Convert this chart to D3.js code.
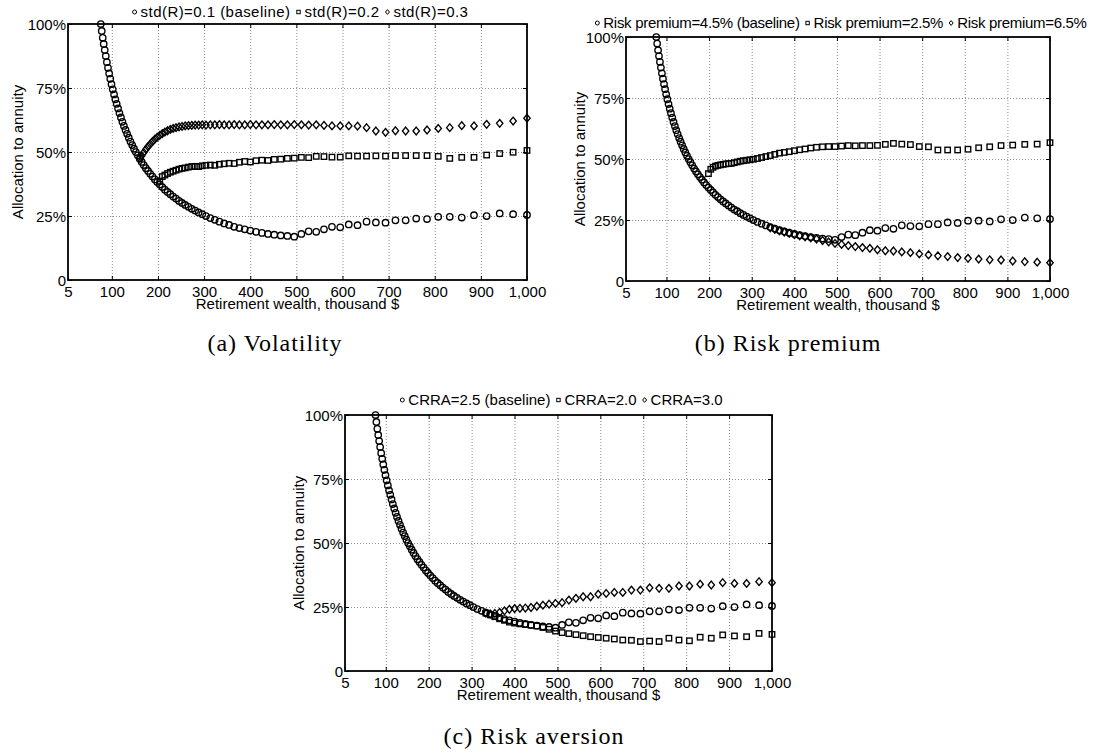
<!DOCTYPE html>
<html>
<head>
<meta charset="utf-8">
<title>Allocation to annuity</title>
<script src="https://cdnjs.cloudflare.com/ajax/libs/d3/7.8.5/d3.min.js"></script>
<style>
  body { margin: 0; background: #fff; }
  svg { display: block; font-family: "Liberation Sans", Arial, Helvetica, sans-serif; }
  .grid line { stroke: #8c8c8c; stroke-width: 1; stroke-dasharray: 1,2; }
  .frame { fill: none; stroke: #000; stroke-width: 1.8; }
  .lbl { font-size: 15px; fill: #000; }
  .caption { font-family: "Liberation Serif", "Times New Roman", serif; font-size: 24px; letter-spacing: 1px; fill: #000; }
  .mk { fill: none; stroke: #000; stroke-width: 1.35; }
  .lmk { fill: none; stroke: #000; stroke-width: 1; }
</style>
</head>
<body>
<div id="chart"></div>
<script>
// retirement wealth grid, thousand $
const wealth = [76.1, 78.1, 80.3, 82.4, 84.6, 86.9, 89.3, 91.7, 94.2, 96.7,
  99.3, 102.0, 104.8, 107.6, 110.5, 113.5, 116.5, 119.7, 122.9, 126.2,
  129.7, 133.1, 136.7, 140.4, 144.2, 148.1, 152.1, 156.2, 160.4, 164.8,
  169.2, 173.8, 178.5, 183.3, 188.2, 193.3, 198.5, 203.9, 209.4, 215.0,
  220.8, 226.8, 232.9, 239.2, 245.7, 252.3, 259.1, 266.1, 273.3, 280.6,
  288.2, 296.0, 304.0, 313.5, 323.2, 333.2, 343.5, 354.2, 365.2, 376.5,
  388.1, 400.2, 412.6, 425.3, 438.5, 452.1, 466.2, 480.6, 495.5, 510.9,
  526.7, 543.1, 559.9, 577.2, 595.1, 613.6, 632.6, 652.2, 672.4, 693.3,
  714.8, 736.9, 759.8, 783.3, 807.6, 832.6, 858.5, 885.1, 912.5, 940.8,
  969.9, 1000];

// baseline allocation to annuity, % (same in all three panels)
const baseline = [100, 97.3, 94.6, 92.2, 89.8, 87.5, 85.1, 82.9, 80.7, 78.6,
  76.5, 74.5, 72.5, 70.6, 68.8, 67.0, 65.2, 63.5, 61.8, 60.2,
  58.6, 57.1, 55.6, 54.1, 52.7, 51.3, 50.0, 48.7, 47.4, 46.1,
  44.9, 43.7, 42.6, 41.5, 40.4, 39.3, 38.3, 37.3, 36.3, 35.3,
  34.4, 33.5, 32.6, 31.8, 30.9, 30.1, 29.3, 28.6, 27.8, 27.1,
  26.4, 25.7, 25.0, 24.2, 23.5, 22.8, 22.1, 21.5, 20.8, 20.3,
  19.8, 19.3, 18.8, 18.4, 18.0, 17.7, 17.4, 17.2, 16.9, 18.0,
  19.0, 18.8, 19.8, 20.8, 20.6, 21.7, 21.4, 22.8, 22.5, 22.4,
  23.3, 23.3, 24.0, 23.8, 24.7, 24.7, 24.4, 25.3, 25.0, 26.0,
  25.7, 25.4];

// (a) volatility, values start at the given wealth
const std02From = 203.9;
const std02 = [38.6, 40.4, 41.0, 41.6, 42.1, 42.5, 42.9, 43.3, 43.6, 43.8, 44.1,
  44.3, 44.4, 44.3, 44.6, 44.8, 44.9, 44.8, 45.2, 45.4, 45.6,
  45.5, 46.0, 46.3, 46.1, 46.6, 46.8, 46.7, 47.1, 47.2, 47.5,
  47.6, 47.9, 47.8, 48.3, 48.2, 48.0, 48.0, 48.5, 48.4, 48.4,
  48.5, 48.4, 48.6, 48.6, 48.6, 48.6, 48.3, 47.5, 47.9, 47.9,
  48.8, 49.4, 49.9, 50.6];
const std03From = 160.4;
const std03 = [47.6, 48.5, 49.8, 51.0, 52.1, 53.1, 54.1, 55.0, 55.8, 56.5, 57.2,
  57.8, 58.3, 58.8, 59.2, 59.5, 59.8, 60.0, 60.2, 60.3, 60.4,
  60.5, 60.5, 60.6, 60.5, 60.6, 60.6, 60.7, 60.6, 60.6, 60.7,
  60.6, 60.6, 60.7, 60.6, 60.6, 60.6, 60.7, 60.6, 60.6, 60.7,
  60.6, 60.5, 60.6, 60.4, 60.2, 60.2, 60.2, 60.1, 59.5, 58.2,
  57.7, 58.3, 58.2, 58.2, 58.6, 59.2, 59.5, 60.3, 60.2, 60.8,
  61.2, 62.1, 63.2];

// (b) risk premium
const prem25From = 198.5;
const prem25 = [44.0, 45.8, 46.6, 47.1, 47.4, 47.6, 47.8, 48.0, 48.1, 48.2,
  48.5, 48.8, 49.1, 49.3, 49.5, 49.7, 49.9, 50.2, 50.6, 51.0,
  51.4, 51.9, 52.4, 52.7, 53.0, 53.4, 53.8, 54.1, 54.5, 54.8,
  55.0, 55.1, 55.1, 55.3, 55.5, 55.4, 55.5, 55.5, 55.6, 56.0,
  56.4, 56.1, 55.9, 55.1, 55.0, 53.7, 53.7, 53.7, 54.0, 54.6,
  55.0, 55.5, 55.7, 56.0, 56.1, 56.7];
const prem65From = 343.5;
const prem65 = [21.8, 21.2, 20.5, 20.0, 19.5, 19.0, 18.5, 18.1, 17.7,
  17.2, 16.6, 16.0, 15.4, 15.0, 14.5, 14.1, 13.7, 13.4, 12.8,
  12.4, 12.3, 11.9, 11.6, 11.1, 10.7, 10.3, 10.0, 9.6, 9.3,
  9.0, 8.7, 8.6, 8.2, 7.9, 7.7, 7.5];

// (c) risk aversion
const crra20From = 333.2;
const crra20 = [22.6, 21.9, 21.2, 20.4, 19.8,
  19.1, 18.7, 18.4, 18.2, 17.9, 17.6, 17.0, 16.3, 15.6, 15.0,
  14.6, 14.2, 13.8, 13.4, 13.1, 12.8, 12.5, 12.1, 12.0, 11.5,
  11.7, 11.5, 12.8, 12.1, 11.8, 13.2, 12.8, 14.1, 13.7, 13.4,
  14.7, 14.3];
const crra30From = 333.2;
const crra30 = [22.6, 22.3, 22.5, 22.9, 23.5, 24.1, 24.4, 24.5, 24.6, 24.8,
  25.3, 25.7, 26.1, 26.4, 26.7, 27.7, 28.4, 29.0, 29.0, 30.0,
  30.3, 30.7, 30.7, 31.6, 31.6, 32.5, 32.3, 32.3, 33.2, 33.2,
  33.9, 33.6, 34.5, 34.2, 34.2, 34.9, 34.5];

const xTicks = [5, 100, 200, 300, 400, 500, 600, 700, 800, 900, 1000];
const yTicks = [0, 25, 50, 75, 100];
const legendA = ["std(R)=0.1 (baseline)", "std(R)=0.2", "std(R)=0.3"];
const legendB = ["Risk premium=4.5% (baseline)", "Risk premium=2.5%", "Risk premium=6.5%"];
const legendC = ["CRRA=2.5 (baseline)", "CRRA=2.0", "CRRA=3.0"];
const captions = ["(a) Volatility", "(b) Risk premium", "(c) Risk aversion"];

const panels = [
  { left: 68, right: 527, top: 24, bottom: 280, legendY: 17, legendBg: 0, legendSp: 0.45, ylabX: 23, capX: 275, capY: 351,
    legend: legendA, caption: captions[0],
    series: [[baseline, wealth[0]], [std02, std02From], [std03, std03From]] },
  { left: 626, right: 1050, top: 37, bottom: 281, legendY: 28, legendBg: 33, legendSp: -0.3, ylabX: 585, capX: 788, capY: 351,
    legend: legendB, caption: captions[1],
    series: [[baseline, wealth[0]], [prem25, prem25From], [prem65, prem65From]] },
  { left: 345, right: 772, top: 415, bottom: 671, legendY: 405, legendBg: 0, legendSp: 0, ylabX: 304, capX: 534, capY: 744,
    legend: legendC, caption: captions[2],
    series: [[baseline, wealth[0]], [crra20, crra20From], [crra30, crra30From]] }
];

const shapes = ["circle", "square", "diamond"];

function marker(sel, shape, cx, cy, s, cls) {
  if (shape === "circle") {
    sel.append("circle").attr("class", cls).attr("cx", cx).attr("cy", cy).attr("r", s);
  } else if (shape === "square") {
    const h = s * 0.85;
    sel.append("rect").attr("class", cls).attr("x", cx - h).attr("y", cy - h)
      .attr("width", 2 * h).attr("height", 2 * h);
  } else {
    const w = s, v = s * 1.2;
    sel.append("path").attr("class", cls)
      .attr("d", `M${cx},${cy - v}L${cx + w},${cy}L${cx},${cy + v}L${cx - w},${cy}Z`);
  }
}

const svg = d3.select("#chart").append("svg").attr("width", 1115).attr("height", 754);

panels.forEach(p => {
  const g = svg.append("g");
  const x = d3.scaleLinear().domain([5, 1000]).range([p.left, p.right]);
  const y = d3.scaleLinear().domain([0, 100]).range([p.bottom, p.top]);
  const h = p.bottom - p.top, w = p.right - p.left;

  // dotted grid
  g.append("g").attr("class", "grid").attr("transform", `translate(0,${p.bottom})`)
    .call(d3.axisBottom(x).tickValues(xTicks.slice(1, -1)).tickSize(-h).tickFormat(""))
    .call(a => a.select(".domain").remove());
  g.append("g").attr("class", "grid").attr("transform", `translate(${p.left},0)`)
    .call(d3.axisLeft(y).tickValues(yTicks.slice(1, -1)).tickSize(-w).tickFormat(""))
    .call(a => a.select(".domain").remove());

  // inward tick marks
  [[d3.axisBottom(x).tickValues(xTicks), p.bottom, true], [d3.axisTop(x).tickValues(xTicks), p.top, true],
   [d3.axisLeft(y).tickValues(yTicks), p.left, false], [d3.axisRight(y).tickValues(yTicks), p.right, false]]
    .forEach(([ax, pos, horiz]) => {
      g.append("g").attr("transform", horiz ? `translate(0,${pos})` : `translate(${pos},0)`)
        .call(ax.tickSize(-4).tickFormat(""))
        .call(a => a.select(".domain").remove())
        .selectAll("line").attr("stroke", "#000");
    });

  // tick labels
  g.append("g").attr("transform", `translate(0,${p.bottom})`)
    .call(d3.axisBottom(x).tickValues(xTicks).tickFormat(d3.format(",")).tickSize(0).tickPadding(6))
    .call(a => a.select(".domain").remove())
    .attr("font-family", null).attr("font-size", null)
    .selectAll("text").attr("class", "lbl");
  g.append("g").attr("transform", `translate(${p.left},0)`)
    .call(d3.axisLeft(y).tickValues(yTicks).tickFormat(d => d === 0 ? "0" : d + "%").tickSize(0).tickPadding(2))
    .call(a => a.select(".domain").remove())
    .attr("font-family", null).attr("font-size", null)
    .selectAll("text").attr("class", "lbl").attr("dy", "0.36em");

  g.append("rect").attr("class", "frame").attr("x", p.left).attr("y", p.top).attr("width", w).attr("height", h);

  // axis titles
  g.append("text").attr("class", "lbl").attr("text-anchor", "middle")
    .attr("x", (p.left + p.right) / 2).attr("y", p.bottom + 29).text("Retirement wealth, thousand $");
  g.append("text").attr("class", "lbl").attr("text-anchor", "middle")
    .attr("transform", `translate(${p.ylabX},${(p.top + p.bottom) / 2}) rotate(-90)`)
    .text("Allocation to annuity");

  // series
  p.series.forEach(([vals, from], si) => {
    const i0 = wealth.indexOf(from);
    const pts = vals.map((v, i) => [wealth[i0 + i], v]);
    const sg = g.append("g");
    pts.forEach(([wx, v]) => marker(sg, shapes[si], x(wx), y(v), si === 0 ? 3.2 : 3.2, "mk"));
  });

  // legend
  const lg = g.append("g");
  let cursor = 0;
  p.legend.forEach((label, i) => {
    const it = lg.append("g").attr("transform", `translate(${cursor},0)`);
    marker(it, shapes[i], 2, -5, 2, "lmk");
    const t = it.append("text").attr("class", "lbl").attr("x", 8).attr("y", 0)
      .style("letter-spacing", p.legendSp + "px").text(label);
    cursor += 8 + t.node().getComputedTextLength() + 6;
  });
  const lw = cursor - 6;
  const lx = (p.left + p.right) / 2 + 3 - lw / 2;
  if (p.legendBg) {
    lg.insert("rect", ":first-child").attr("x", -10).attr("y", -20).attr("width", lw + 20)
      .attr("height", p.legendBg - p.legendY + 20).attr("fill", "#fff");
  }
  lg.attr("transform", `translate(${lx},${p.legendY})`);

  g.append("text").attr("class", "caption").attr("text-anchor", "middle")
    .attr("x", p.capX).attr("y", p.capY).text(p.caption);
});
</script>
</body>
</html>
